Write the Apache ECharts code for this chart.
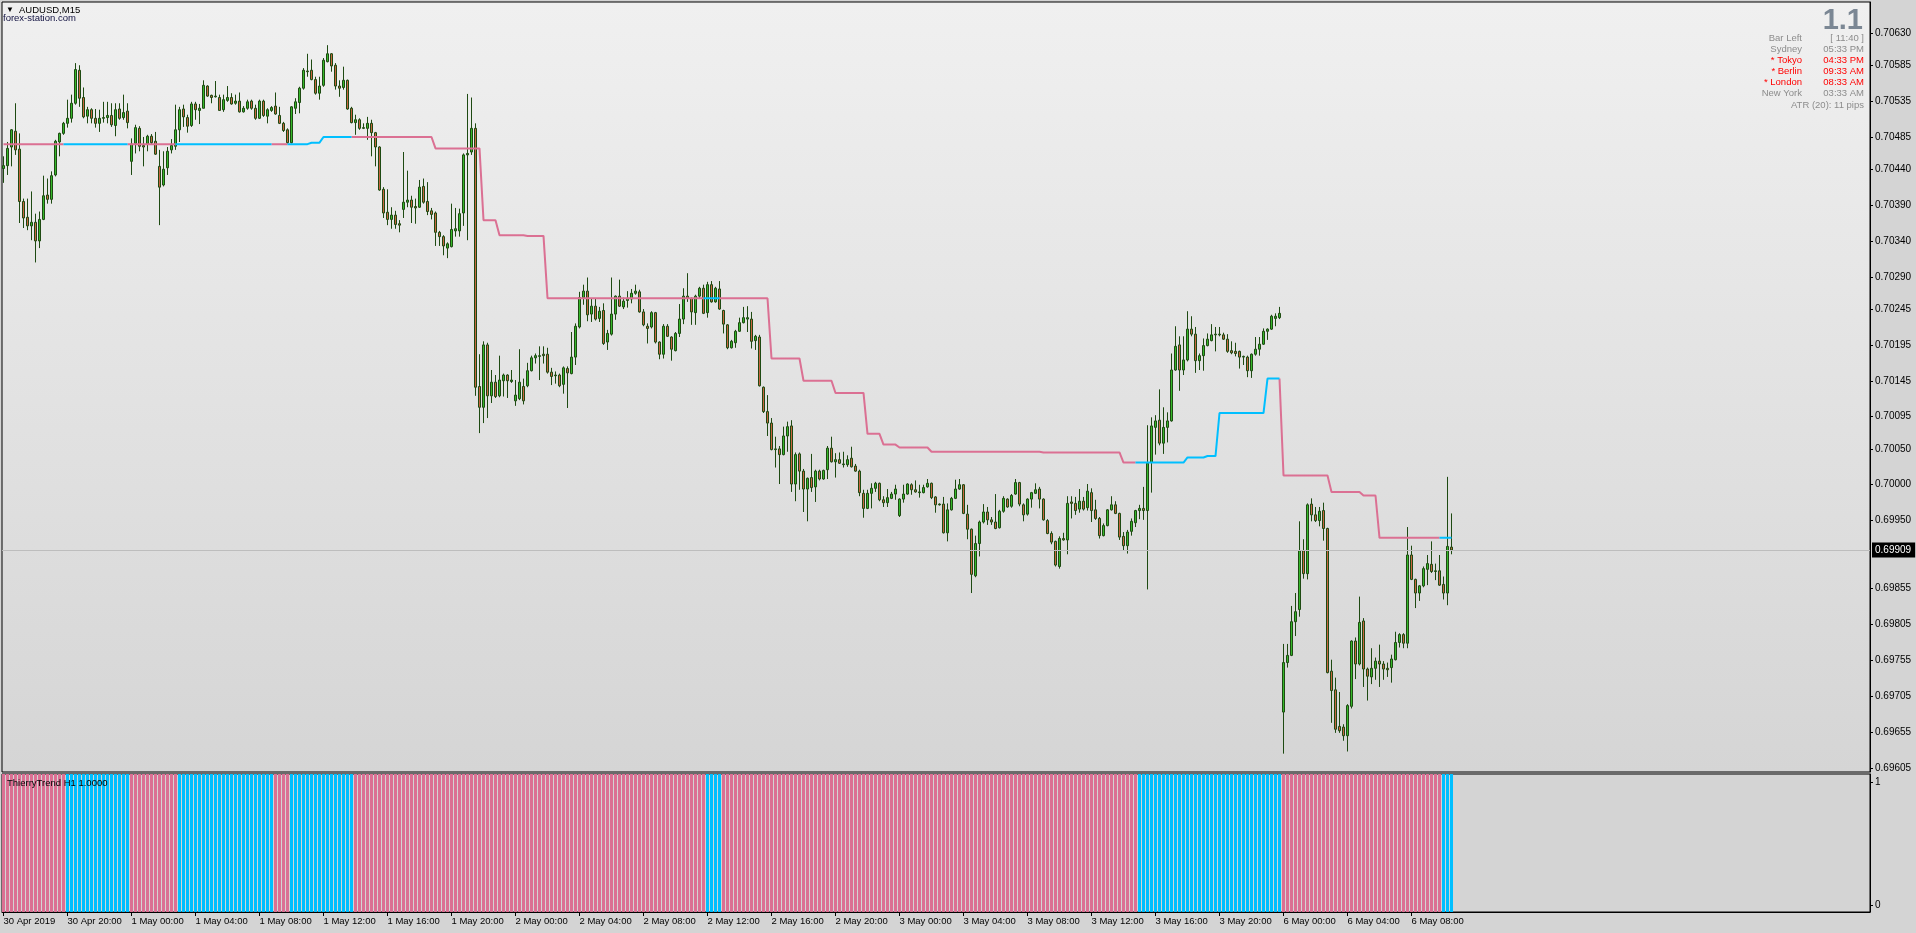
<!DOCTYPE html>
<html>
<head>
<meta charset="utf-8">
<script src="https://cdn.jsdelivr.net/npm/echarts@6/dist/echarts.min.js"></script>
<style>
html,body{margin:0;padding:0;background:#D4D4D4;overflow:hidden;}
#chart{width:1916px;height:933px;}
</style>
</head>
<body>
<div id="chart"></div>
<script>
// ---------------- DATA ----------------
const symbolTitle = 'AUDUSD,M15';
const brandText = 'forex-station.com';
const indicatorTitle = 'ThierryTrend H1 1.0000';

const timeTickBars = [0,16,32,48,64,80,96,112,128,144,160,176,192,208,224,240,256,272,288,304,320,336,352];
const timeTickLabels = ['30 Apr 2019','30 Apr 20:00','1 May 00:00','1 May 04:00','1 May 08:00','1 May 12:00','1 May 16:00','1 May 20:00','2 May 00:00','2 May 04:00','2 May 08:00','2 May 12:00','2 May 16:00','2 May 20:00','3 May 00:00','3 May 04:00','3 May 08:00','3 May 12:00','3 May 16:00','3 May 20:00','6 May 00:00','6 May 04:00','6 May 08:00'];

const priceTicks = [0.70630,0.70585,0.70535,0.70485,0.70440,0.70390,0.70340,0.70290,0.70245,0.70195,0.70145,0.70095,0.70050,0.70000,0.69950,0.69855,0.69805,0.69755,0.69705,0.69655,0.69605];
const priceAxisMin = 0.695994;
const priceAxisMax = 0.706732;

const openPrices = [
0.70441,0.70445,0.70471,0.70493,0.70468,0.70395,0.70373,0.70361,0.70366,0.70340,
0.70370,0.70404,0.70398,0.70432,0.70478,0.70490,0.70504,0.70511,0.70532,0.70578,
0.70540,0.70514,0.70523,0.70511,0.70504,0.70511,0.70512,0.70515,0.70501,0.70524,
0.70512,0.70521,0.70451,0.70476,0.70497,0.70473,0.70475,0.70486,0.70479,0.70444,
0.70418,0.70442,0.70467,0.70472,0.70495,0.70524,0.70512,0.70501,0.70531,0.70522,
0.70525,0.70556,0.70543,0.70541,0.70540,0.70523,0.70536,0.70540,0.70532,0.70535,
0.70520,0.70525,0.70535,0.70525,0.70511,0.70535,0.70514,0.70522,0.70528,0.70515,
0.70504,0.70495,0.70477,0.70525,0.70533,0.70553,0.70577,0.70578,0.70565,0.70546,
0.70557,0.70590,0.70601,0.70585,0.70556,0.70554,0.70564,0.70525,0.70505,0.70509,
0.70497,0.70497,0.70504,0.70491,0.70471,0.70412,0.70380,0.70370,0.70376,0.70364,
0.70384,0.70394,0.70397,0.70388,0.70387,0.70416,0.70395,0.70382,0.70379,0.70352,
0.70346,0.70330,0.70332,0.70354,0.70354,0.70379,0.70460,0.70464,0.70497,0.70137,
0.70108,0.70195,0.70124,0.70143,0.70124,0.70145,0.70153,0.70144,0.70117,0.70120,
0.70137,0.70138,0.70159,0.70177,0.70179,0.70182,0.70182,0.70157,0.70152,0.70153,
0.70140,0.70162,0.70155,0.70178,0.70220,0.70261,0.70270,0.70238,0.70249,0.70232,
0.70243,0.70199,0.70210,0.70238,0.70263,0.70248,0.70257,0.70259,0.70267,0.70269,
0.70241,0.70221,0.70220,0.70240,0.70199,0.70182,0.70221,0.70206,0.70187,0.70211,
0.70231,0.70263,0.70260,0.70240,0.70263,0.70274,0.70240,0.70279,0.70255,0.70273,
0.70243,0.70223,0.70191,0.70198,0.70214,0.70226,0.70231,0.70231,0.70201,0.70206,
0.70136,0.70102,0.70086,0.70049,0.70050,0.70042,0.70068,0.70082,0.70001,0.70043,
0.70019,0.69994,0.70010,0.69997,0.70019,0.70008,0.70021,0.70051,0.70032,0.70035,
0.70028,0.70028,0.70037,0.70026,0.70019,0.69988,0.69967,0.69988,0.69995,0.70002,
0.69979,0.69975,0.69981,0.69987,0.69957,0.69980,0.69987,0.70000,0.69993,0.69989,
0.69989,0.69997,0.70002,0.69983,0.69972,0.69973,0.69933,0.69965,0.69981,0.69994,
0.70000,0.69959,0.69938,0.69873,0.69918,0.69948,0.69962,0.69951,0.69948,0.69940,
0.69963,0.69980,0.69970,0.69987,0.70003,0.69972,0.69959,0.69980,0.69988,0.69994,
0.69980,0.69950,0.69932,0.69921,0.69886,0.69925,0.69923,0.69976,0.69974,0.69966,
0.69977,0.69968,0.69989,0.69965,0.69953,0.69929,0.69943,0.69965,0.69972,0.69960,
0.69928,0.69915,0.69935,0.69947,0.69964,0.69967,0.69964,0.70031,0.70080,0.70090,
0.70058,0.70080,0.70089,0.70160,0.70195,0.70160,0.70174,0.70217,0.70210,0.70173,
0.70180,0.70194,0.70201,0.70209,0.70209,0.70209,0.70203,0.70187,0.70186,0.70186,
0.70178,0.70178,0.70159,0.70182,0.70189,0.70196,0.70214,0.70217,0.70232,0.70233,
0.69683,0.69752,0.69762,0.69809,0.69826,0.69908,0.69876,0.69973,0.69958,0.69950,
0.69964,0.69939,0.69740,0.69714,0.69663,0.69662,0.69650,0.69691,0.69782,0.69750,
0.69810,0.69743,0.69732,0.69744,0.69754,0.69750,0.69744,0.69745,0.69756,0.69780,
0.69791,0.69779,0.69902,0.69868,0.69849,0.69859,0.69882,0.69889,0.69879,0.69880,
0.69861,0.69849,0.69913];

const highPrices = [
0.70458,0.70478,0.70496,0.70532,0.70490,0.70399,0.70399,0.70409,0.70378,0.70381,
0.70431,0.70427,0.70437,0.70481,0.70491,0.70506,0.70537,0.70544,0.70588,0.70585,
0.70554,0.70527,0.70525,0.70524,0.70523,0.70534,0.70534,0.70532,0.70532,0.70532,
0.70544,0.70532,0.70483,0.70502,0.70500,0.70485,0.70488,0.70489,0.70492,0.70467,
0.70465,0.70471,0.70482,0.70530,0.70527,0.70530,0.70516,0.70534,0.70534,0.70531,
0.70564,0.70557,0.70544,0.70563,0.70544,0.70544,0.70556,0.70546,0.70544,0.70547,
0.70528,0.70537,0.70537,0.70530,0.70537,0.70537,0.70525,0.70528,0.70547,0.70527,
0.70506,0.70497,0.70528,0.70539,0.70555,0.70581,0.70601,0.70593,0.70569,0.70569,
0.70595,0.70613,0.70602,0.70588,0.70564,0.70583,0.70565,0.70527,0.70516,0.70511,
0.70504,0.70513,0.70509,0.70492,0.70472,0.70415,0.70412,0.70387,0.70382,0.70369,
0.70464,0.70438,0.70403,0.70399,0.70425,0.70427,0.70422,0.70386,0.70381,0.70354,
0.70348,0.70338,0.70392,0.70386,0.70385,0.70462,0.70545,0.70540,0.70504,0.70182,
0.70200,0.70198,0.70160,0.70153,0.70180,0.70155,0.70154,0.70160,0.70146,0.70189,
0.70148,0.70170,0.70180,0.70183,0.70193,0.70193,0.70191,0.70163,0.70158,0.70155,
0.70165,0.70165,0.70213,0.70225,0.70269,0.70279,0.70289,0.70260,0.70260,0.70248,
0.70253,0.70216,0.70289,0.70264,0.70286,0.70261,0.70270,0.70273,0.70279,0.70272,
0.70245,0.70225,0.70242,0.70241,0.70200,0.70224,0.70224,0.70207,0.70213,0.70252,
0.70274,0.70295,0.70261,0.70265,0.70276,0.70279,0.70283,0.70284,0.70276,0.70284,
0.70244,0.70224,0.70202,0.70216,0.70233,0.70248,0.70249,0.70241,0.70209,0.70209,
0.70137,0.70125,0.70093,0.70067,0.70054,0.70081,0.70088,0.70090,0.70045,0.70045,
0.70022,0.70010,0.70043,0.70021,0.70021,0.70021,0.70054,0.70067,0.70044,0.70045,
0.70046,0.70041,0.70053,0.70029,0.70021,0.69993,0.69993,0.70002,0.70004,0.70003,
0.69984,0.69994,0.69990,0.70000,0.69981,0.70000,0.70002,0.70002,0.70006,0.70000,
0.70000,0.70008,0.70003,0.69984,0.69974,0.69983,0.69974,0.69983,0.70007,0.70008,
0.70001,0.69972,0.69939,0.69929,0.69950,0.69973,0.69969,0.69955,0.69987,0.69965,
0.69984,0.69981,0.69987,0.70008,0.70004,0.69974,0.69981,0.69990,0.70002,0.69997,
0.69981,0.69952,0.69935,0.69922,0.69928,0.69933,0.69984,0.69984,0.69983,0.69994,
0.69983,0.70001,0.69995,0.69979,0.69955,0.69946,0.69966,0.69984,0.69977,0.69961,
0.69934,0.69937,0.69953,0.69965,0.69972,0.69997,0.70083,0.70094,0.70097,0.70133,
0.70108,0.70101,0.70183,0.70221,0.70207,0.70207,0.70242,0.70235,0.70220,0.70183,
0.70204,0.70211,0.70224,0.70220,0.70220,0.70212,0.70210,0.70200,0.70198,0.70187,
0.70180,0.70180,0.70183,0.70206,0.70206,0.70218,0.70218,0.70237,0.70239,0.70248,
0.69778,0.69778,0.69831,0.69849,0.69949,0.69924,0.69974,0.69981,0.69969,0.69969,
0.69975,0.69940,0.69756,0.69731,0.69711,0.69666,0.69694,0.69783,0.69787,0.69844,
0.69814,0.69745,0.69772,0.69759,0.69777,0.69754,0.69752,0.69763,0.69795,0.69793,
0.69793,0.69941,0.69915,0.69869,0.69860,0.69886,0.69902,0.69921,0.69890,0.69902,
0.69872,0.70011,0.69960];

const lowPrices = [
0.70421,0.70432,0.70444,0.70460,0.70365,0.70358,0.70355,0.70341,0.70310,0.70330,
0.70369,0.70392,0.70392,0.70430,0.70458,0.70488,0.70498,0.70505,0.70530,0.70527,
0.70511,0.70504,0.70504,0.70498,0.70492,0.70505,0.70504,0.70499,0.70486,0.70509,
0.70509,0.70497,0.70432,0.70462,0.70465,0.70444,0.70465,0.70475,0.70460,0.70362,
0.70416,0.70432,0.70462,0.70467,0.70478,0.70499,0.70491,0.70499,0.70509,0.70503,
0.70525,0.70541,0.70532,0.70540,0.70522,0.70520,0.70534,0.70530,0.70530,0.70519,
0.70519,0.70523,0.70523,0.70509,0.70510,0.70513,0.70504,0.70520,0.70516,0.70503,
0.70492,0.70476,0.70476,0.70517,0.70518,0.70551,0.70569,0.70564,0.70544,0.70537,
0.70555,0.70589,0.70576,0.70551,0.70541,0.70551,0.70523,0.70504,0.70488,0.70495,
0.70496,0.70481,0.70458,0.70444,0.70410,0.70372,0.70362,0.70357,0.70357,0.70352,
0.70372,0.70387,0.70365,0.70364,0.70386,0.70392,0.70376,0.70370,0.70333,0.70333,
0.70320,0.70316,0.70331,0.70346,0.70346,0.70361,0.70341,0.70460,0.70124,0.70072,
0.70086,0.70093,0.70114,0.70121,0.70122,0.70123,0.70121,0.70142,0.70110,0.70118,
0.70112,0.70136,0.70158,0.70169,0.70146,0.70169,0.70155,0.70139,0.70141,0.70136,
0.70127,0.70107,0.70154,0.70167,0.70218,0.70251,0.70228,0.70227,0.70229,0.70227,
0.70195,0.70188,0.70208,0.70230,0.70248,0.70245,0.70247,0.70253,0.70265,0.70240,
0.70221,0.70197,0.70218,0.70197,0.70175,0.70176,0.70206,0.70173,0.70186,0.70206,
0.70224,0.70255,0.70223,0.70223,0.70260,0.70238,0.70233,0.70254,0.70254,0.70244,
0.70211,0.70189,0.70190,0.70191,0.70213,0.70225,0.70213,0.70190,0.70188,0.70137,
0.70100,0.70068,0.70048,0.70024,0.70001,0.70041,0.70046,0.69990,0.69977,0.69993,
0.69962,0.69949,0.69990,0.69976,0.70006,0.70007,0.70008,0.70031,0.70010,0.70029,
0.70024,0.70025,0.70024,0.70018,0.69984,0.69954,0.69966,0.69967,0.69990,0.69977,
0.69969,0.69969,0.69980,0.69979,0.69955,0.69975,0.69986,0.69986,0.69989,0.69982,
0.69988,0.69996,0.69980,0.69961,0.69971,0.69932,0.69921,0.69964,0.69980,0.69993,
0.69959,0.69924,0.69849,0.69871,0.69900,0.69946,0.69944,0.69944,0.69938,0.69939,
0.69961,0.69968,0.69968,0.69986,0.69970,0.69949,0.69957,0.69968,0.69987,0.69967,
0.69950,0.69931,0.69917,0.69886,0.69883,0.69922,0.69903,0.69953,0.69958,0.69961,
0.69964,0.69964,0.69948,0.69951,0.69925,0.69928,0.69942,0.69964,0.69959,0.69923,
0.69908,0.69904,0.69929,0.69941,0.69952,0.69951,0.69854,0.69989,0.70042,0.70055,
0.70043,0.70059,0.70088,0.70159,0.70131,0.70153,0.70172,0.70207,0.70156,0.70160,
0.70159,0.70193,0.70200,0.70186,0.70207,0.70202,0.70184,0.70182,0.70179,0.70162,
0.70167,0.70150,0.70149,0.70180,0.70180,0.70195,0.70202,0.70216,0.70221,0.70231,
0.69625,0.69745,0.69761,0.69789,0.69816,0.69869,0.69868,0.69949,0.69948,0.69942,
0.69922,0.69737,0.69668,0.69654,0.69654,0.69643,0.69628,0.69688,0.69729,0.69748,
0.69718,0.69699,0.69722,0.69728,0.69718,0.69728,0.69732,0.69724,0.69755,0.69773,
0.69772,0.69772,0.69867,0.69828,0.69838,0.69857,0.69860,0.69877,0.69867,0.69859,
0.69840,0.69832,0.69903];

const closePrices = [
0.70445,0.70469,0.70495,0.70467,0.70395,0.70372,0.70361,0.70366,0.70340,0.70370,
0.70403,0.70398,0.70431,0.70479,0.70490,0.70504,0.70511,0.70532,0.70579,0.70539,
0.70513,0.70523,0.70511,0.70504,0.70511,0.70512,0.70515,0.70502,0.70523,0.70511,
0.70519,0.70505,0.70475,0.70498,0.70472,0.70471,0.70486,0.70477,0.70461,0.70415,
0.70440,0.70465,0.70473,0.70495,0.70523,0.70513,0.70500,0.70531,0.70523,0.70525,
0.70557,0.70542,0.70540,0.70542,0.70522,0.70537,0.70540,0.70531,0.70535,0.70520,
0.70525,0.70534,0.70525,0.70511,0.70535,0.70515,0.70523,0.70526,0.70517,0.70504,
0.70494,0.70477,0.70527,0.70534,0.70553,0.70578,0.70576,0.70565,0.70546,0.70556,
0.70592,0.70601,0.70584,0.70556,0.70553,0.70564,0.70524,0.70505,0.70509,0.70497,
0.70498,0.70504,0.70491,0.70471,0.70411,0.70379,0.70370,0.70376,0.70363,0.70362,
0.70394,0.70397,0.70387,0.70386,0.70415,0.70394,0.70381,0.70377,0.70352,0.70346,
0.70333,0.70336,0.70356,0.70357,0.70378,0.70460,0.70462,0.70497,0.70136,0.70108,
0.70195,0.70124,0.70143,0.70123,0.70146,0.70153,0.70145,0.70146,0.70125,0.70143,
0.70117,0.70159,0.70177,0.70180,0.70180,0.70180,0.70157,0.70151,0.70153,0.70138,
0.70163,0.70156,0.70178,0.70221,0.70261,0.70270,0.70237,0.70249,0.70231,0.70242,
0.70197,0.70211,0.70238,0.70263,0.70249,0.70256,0.70260,0.70267,0.70270,0.70241,
0.70223,0.70218,0.70240,0.70199,0.70182,0.70221,0.70207,0.70189,0.70211,0.70231,
0.70263,0.70260,0.70241,0.70263,0.70274,0.70239,0.70279,0.70255,0.70274,0.70245,
0.70224,0.70191,0.70200,0.70214,0.70226,0.70233,0.70233,0.70200,0.70207,0.70138,
0.70102,0.70086,0.70049,0.70050,0.70042,0.70068,0.70081,0.70001,0.70042,0.70019,
0.69994,0.70009,0.69996,0.70019,0.70008,0.70020,0.70051,0.70032,0.70035,0.70030,
0.70029,0.70035,0.70025,0.70019,0.69989,0.69967,0.69988,0.69995,0.70002,0.69979,
0.69975,0.69982,0.69987,0.69994,0.69980,0.69987,0.70001,0.69993,0.69990,0.69990,
0.69996,0.70002,0.69982,0.69972,0.69973,0.69933,0.69965,0.69981,0.69994,0.70000,
0.69960,0.69938,0.69875,0.69918,0.69948,0.69962,0.69951,0.69948,0.69939,0.69963,
0.69981,0.69969,0.69985,0.70003,0.69973,0.69958,0.69980,0.69989,0.69993,0.69980,
0.69951,0.69932,0.69920,0.69888,0.69925,0.69923,0.69974,0.69974,0.69964,0.69977,
0.69966,0.69991,0.69964,0.69953,0.69929,0.69943,0.69965,0.69972,0.69960,0.69927,
0.69915,0.69934,0.69949,0.69964,0.69967,0.69964,0.70030,0.70082,0.70089,0.70058,
0.70080,0.70089,0.70160,0.70193,0.70160,0.70174,0.70217,0.70210,0.70173,0.70180,
0.70194,0.70203,0.70209,0.70210,0.70210,0.70203,0.70186,0.70184,0.70183,0.70178,
0.70179,0.70159,0.70182,0.70189,0.70196,0.70214,0.70217,0.70235,0.70235,0.70239,
0.69752,0.69762,0.69809,0.69823,0.69908,0.69876,0.69972,0.69958,0.69950,0.69963,
0.69939,0.69738,0.69713,0.69659,0.69657,0.69650,0.69692,0.69782,0.69750,0.69808,
0.69743,0.69733,0.69744,0.69754,0.69750,0.69743,0.69742,0.69757,0.69780,0.69791,
0.69779,0.69902,0.69868,0.69849,0.69859,0.69883,0.69890,0.69879,0.69880,0.69860,
0.69849,0.69914,0.69909];

// ThierryTrend H1 stop line: value holds from the given bar index onward
const stopStepBars   = [0,77,80,108,120,124,131,136,192,200,208,216,220,224,232,260,280,296,301,304,316,320,332,340,344];
const stopStepValues = [0.70475,0.70477,0.70485,0.70469,0.70369,0.70348,0.70347,0.70260,0.70176,0.70145,0.70128,0.70071,0.70056,0.70052,0.70046,0.70045,0.70031,0.70038,0.70040,0.70100,0.70148,0.70013,0.69990,0.69985,0.69926];

// ThierryTrend direction: holds from the given bar index onward
const trendChangeBars = [0,16,32,44,68,72,88,176,180,284,320,360];
const trendChangeDirs = ['down','up','down','up','down','up','down','up','down','up','down','up'];

const infoLabels = ['Bar Left','Sydney','* Tokyo','* Berlin','* London','New York'];
const infoValues = ['[ 11:40 ]','05:33 PM','04:33 PM','09:33 AM','08:33 AM','03:33 AM'];
const infoActive = [false,false,true,true,true,false];
const atrText = 'ATR (20): 11 pips';
const spreadText = '1.1';

// ---------------- BUILD ----------------
const N = closePrices.length;
const COL_UP = '#00BFFF', COL_DN = '#DB7093';
const FONT = 'Liberation Sans';

function stepValue(steps, vals, i){ let v = vals[0]; for (let k=0;k<steps.length;k++){ if (i>=steps[k]) v = vals[k]; } return v; }
const dirs = [], stopLine = [];
for (let i=0;i<N;i++){ dirs.push(stepValue(trendChangeBars, trendChangeDirs, i)); stopLine.push(stepValue(stopStepBars, stopStepValues, i)); }

const candleData = [];
for (let i=0;i<N;i++) candleData.push([i, openPrices[i], closePrices[i], lowPrices[i], highPrices[i]]);

function lineFor(dir){
  const out = [];
  for (let i=0;i<N;i++){
    const inc = dirs[i]===dir || (i+1<N && dirs[i+1]===dir);
    out.push(inc ? [i, stopLine[i]] : [i, null]);
  }
  return out;
}
const histData = [];
for (let i=0;i<N;i++) histData.push({value:[i,1], itemStyle:{color: dirs[i]==='up'?COL_UP:COL_DN}});

const lastClose = closePrices[N-1];
const xMin = -0.375, xMax = 466.625;

const chart = echarts.init(document.getElementById('chart'), null, {renderer:'canvas'});

const TXT = '9.5px ' + FONT;
const graphics = [
  {type:'text', left:6, top:6, z:100, style:{text:'\u25BC', fill:'#000', font:'8px '+FONT}},
  {type:'text', left:19, top:5, z:100, style:{text:symbolTitle, fill:'#000', font:TXT}},
  {type:'text', left:3, top:13, z:100, style:{text:brandText, fill:'#101040', font:TXT}},
  {type:'text', left:7, top:778, z:100, style:{text:indicatorTitle, fill:'#000', font:TXT}},
  {type:'text', right:53, top:6, z:100, style:{text:spreadText, fill:'#7B8794', font:'bold 29px '+FONT}},
  {type:'text', right:52, top:100, z:100, style:{text:atrText, fill:'#8C8C8C', font:TXT}}
];
for (let k=0;k<infoLabels.length;k++){
  const col = infoActive[k] ? '#FF0000' : '#8C8C8C';
  graphics.push({type:'text', right:1916-1802, top:33+k*11, z:100, style:{text:infoLabels[k], fill:col, font:TXT}});
  graphics.push({type:'text', right:52, top:33+k*11, z:100, style:{text:infoValues[k], fill:col, font:TXT}});
}

const option = {
  animation:false,
  backgroundColor:'#D4D4D4',
  textStyle:{fontFamily:FONT},
  grid:[
    {left:2, top:2, width:1868, height:770, show:true, borderColor:'#000', borderWidth:1,
     backgroundColor:{type:'linear', x:0, y:0, x2:0, y2:1, colorStops:[{offset:0,color:'#F0F0F0'},{offset:1,color:'#D5D5D5'}]}},
    {left:2, top:774, width:1868, height:138, show:true, borderColor:'#000', borderWidth:1, backgroundColor:'#D4D4D4'}
  ],
  xAxis:[
    {type:'value', gridIndex:0, min:xMin, max:xMax, axisLine:{show:false, onZero:false}, axisTick:{show:false}, axisLabel:{show:false}, splitLine:{show:false}},
    {type:'value', gridIndex:1, min:xMin, max:xMax, position:'bottom',
     axisLine:{show:true, onZero:false, lineStyle:{color:'#000', width:1}},
     axisTick:{show:true, length:4, customValues:timeTickBars, lineStyle:{color:'#000'}},
     axisLabel:{show:true, customValues:timeTickBars, align:'left', margin:4, color:'#000', fontSize:9.5, fontFamily:FONT,
       formatter:function(v){ const k = timeTickBars.indexOf(Math.round(v)); return k>=0 ? timeTickLabels[k] : ''; }},
     splitLine:{show:false}}
  ],
  yAxis:[
    {type:'value', gridIndex:0, position:'right', min:priceAxisMin, max:priceAxisMax,
     axisLine:{show:true, onZero:false, lineStyle:{color:'#000'}},
     axisTick:{show:true, length:3, customValues:priceTicks, lineStyle:{color:'#000'}},
     axisLabel:{show:true, customValues:priceTicks, margin:5, color:'#000', fontSize:10, fontFamily:FONT,
       formatter:function(v){ return v.toFixed(5); }},
     splitLine:{show:false}},
    {type:'value', gridIndex:1, position:'right', min:-0.057, max:1.065,
     axisLine:{show:true, onZero:false, lineStyle:{color:'#000'}},
     axisTick:{show:true, length:3, customValues:[0,1], lineStyle:{color:'#000'}},
     axisLabel:{show:true, customValues:[0,1], margin:5, color:'#000', fontSize:10, fontFamily:FONT, formatter:function(v){return String(Math.round(v));}},
     splitLine:{show:false}},
    {type:'value', gridIndex:1, min:0, max:1, show:false, axisLine:{onZero:false}}
  ],
  series:[
    {type:'candlestick', name:'AUDUSD', xAxisIndex:0, yAxisIndex:0, data:candleData, barWidth:2,
     encode:{x:0, y:[1,2,3,4]},
     itemStyle:{color:'#35B82A', color0:'#C8653F', borderColor:'#1E4A12', borderColor0:'#1E4A12', borderWidth:1},
     markLine:{silent:true, symbol:'none', animation:false, precision:5,
       lineStyle:{color:'#BDBDBD', width:1, type:'solid'},
       label:{show:true, position:'end', distance:2, formatter:lastClose.toFixed(5), color:'#fff', backgroundColor:'#000', padding:[3,4,2,3], fontSize:10, fontFamily:FONT},
       data:[{yAxis:lastClose}]}},
    {type:'line', name:'stopDown', xAxisIndex:0, yAxisIndex:0, data:lineFor('down'), showSymbol:false, connectNulls:false,
     lineStyle:{color:COL_DN, width:2}, itemStyle:{color:COL_DN}, z:3},
    {type:'line', name:'stopUp', xAxisIndex:0, yAxisIndex:0, data:lineFor('up'), showSymbol:false, connectNulls:false,
     lineStyle:{color:COL_UP, width:2}, itemStyle:{color:COL_UP}, z:3},
    {type:'bar', name:'ThierryTrend', xAxisIndex:1, yAxisIndex:2, data:histData, barWidth:3, barGap:'0%'}
  ],
  graphic:graphics
};
chart.setOption(option);
</script>
</body>
</html>
